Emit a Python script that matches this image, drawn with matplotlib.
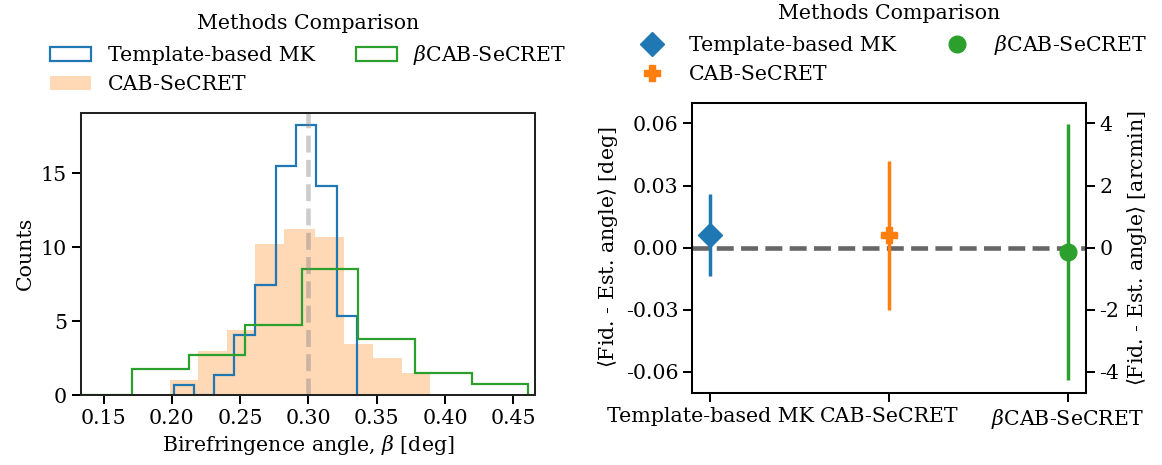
import numpy as np
import matplotlib
matplotlib.use("Agg")
import matplotlib.pyplot as plt
from matplotlib.lines import Line2D

plt.rcParams['font.family'] = ['DejaVu Serif']
plt.rcParams['mathtext.fontset'] = 'dejavuserif'
plt.rcParams['axes.unicode_minus'] = False

# ---- Histogram data (bin edges and heights) ----
mk_edges = [0.2012, 0.2159, 0.2310, 0.2456, 0.2610, 0.2761, 0.2910, 0.3056, 0.3207, 0.3354]
mk_heights = [0.66, 0.0, 1.33, 4.05, 7.42, 15.52, 18.26, 14.14, 5.36]

cab_edges = [0.1983, 0.2193, 0.2400, 0.2610, 0.2822, 0.3051, 0.3261, 0.3471, 0.3683, 0.3893]
cab_heights = [1.02, 2.99, 4.41, 10.23, 11.20, 10.72, 3.44, 2.49, 1.52]

bcab_edges = [0.1250, 0.1707, 0.2122, 0.2537, 0.2951, 0.3366, 0.3780, 0.4195, 0.4610]
bcab_heights = [0.0, 1.74, 2.74, 4.73, 8.51, 3.78, 1.47, 0.72]

fiducial_beta = 0.30

# ---- Method comparison data ----
methods = ["Template-based MK", "CAB-SeCRET", r"$\beta$CAB-SeCRET"]
mean_diff = [0.0061, 0.0059, -0.0022]
err_diff = [0.0199, 0.0360, 0.0617]
markers = ["D", "P", "o"]
colors = ["C0", "C1", "C2"]

FS = 14.8
TL = 6.5
TW = 1.45

fig = plt.figure(figsize=(11.62, 4.65), dpi=100)

# ---------------- Left panel ----------------
ax1 = fig.add_axes([0.0697, 0.1505, 0.3907, 0.6071])
ax1.hist(mk_edges[:-1], bins=mk_edges, weights=mk_heights, histtype='step',
         color='C0', lw=1.6, label="Template-based MK")
ax1.hist(cab_edges[:-1], bins=cab_edges, weights=cab_heights, histtype='stepfilled',
         color='C1', alpha=0.3, label="CAB-SeCRET")
ax1.hist(bcab_edges[:-1], bins=bcab_edges, weights=bcab_heights, histtype='step',
         color='C2', lw=1.6, label=r"$\beta$CAB-SeCRET")
ax1.axvline(fiducial_beta, color='gray', alpha=0.4, ls='--', lw=3.3)
ax1.set_xlim(0.1334, 0.4659)
ax1.set_ylim(0, 19.1)
ax1.set_xticks([0.15, 0.20, 0.25, 0.30, 0.35, 0.40, 0.45])
ax1.set_yticks([0, 5, 10, 15])
ax1.set_xlabel(r"Birefringence angle, $\beta$ [deg]", fontsize=FS)
ax1.set_ylabel("Counts", fontsize=FS)
ax1.tick_params(labelsize=FS, length=TL, width=TW)
for s in ax1.spines.values():
    s.set_linewidth(TW)
    s.set_color('#222222')
ax1.legend(title="Methods Comparison", ncol=2, frameon=False, fontsize=FS,
           title_fontsize=FS, loc='lower center', bbox_to_anchor=(0.5, 1.0))

# ---------------- Right panel ----------------
ax2 = fig.add_axes([0.5958, 0.1555, 0.3384, 0.6237])
x = np.arange(len(methods))
ax2.axhline(0, color='#666666', ls='--', lw=3.3, zorder=1)
handles = []
for i in range(len(methods)):
    ax2.errorbar(x[i], mean_diff[i], yerr=err_diff[i], fmt=markers[i], color=colors[i],
                 ms=12, elinewidth=2.5, capsize=0, zorder=3)
    handles.append(Line2D([], [], ls='none', marker=markers[i], color=colors[i],
                          ms=12, label=methods[i]))
ax2.set_xlim(-0.1, 2.1)
ax2.set_ylim(-0.07, 0.07)
ax2.set_xticks(x)
ax2.set_xticklabels(methods)
ax2.set_yticks([-0.06, -0.03, 0.0, 0.03, 0.06])
ax2.set_yticklabels(["-0.06", "-0.03", "0.00", "0.03", "0.06"])
ax2.set_ylabel(r"$\langle$Fid. - Est. angle$\rangle$ [deg]", fontsize=FS)
ax2.tick_params(labelsize=FS, length=TL, width=TW)
for s in ax2.spines.values():
    s.set_linewidth(TW)

ax3 = ax2.twinx()
ax3.set_ylim(-0.07 * 4 / 0.06, 0.07 * 4 / 0.06)
ax3.set_yticks([-4, -2, 0, 2, 4])
ax3.set_yticklabels(["-4", "-2", "0", "2", "4"])
ax3.set_ylabel(r"$\langle$Fid. - Est. angle$\rangle$ [arcmin]", fontsize=FS)
ax3.tick_params(labelsize=FS, length=TL, width=TW)
for s in ax3.spines.values():
    s.set_linewidth(TW)

ax2.legend(handles=handles, title="Methods Comparison", ncol=2, frameon=False,
           fontsize=FS, title_fontsize=FS, loc='lower center',
           bbox_to_anchor=(0.5, 1.0))

fig.savefig("out.png", dpi=100)
